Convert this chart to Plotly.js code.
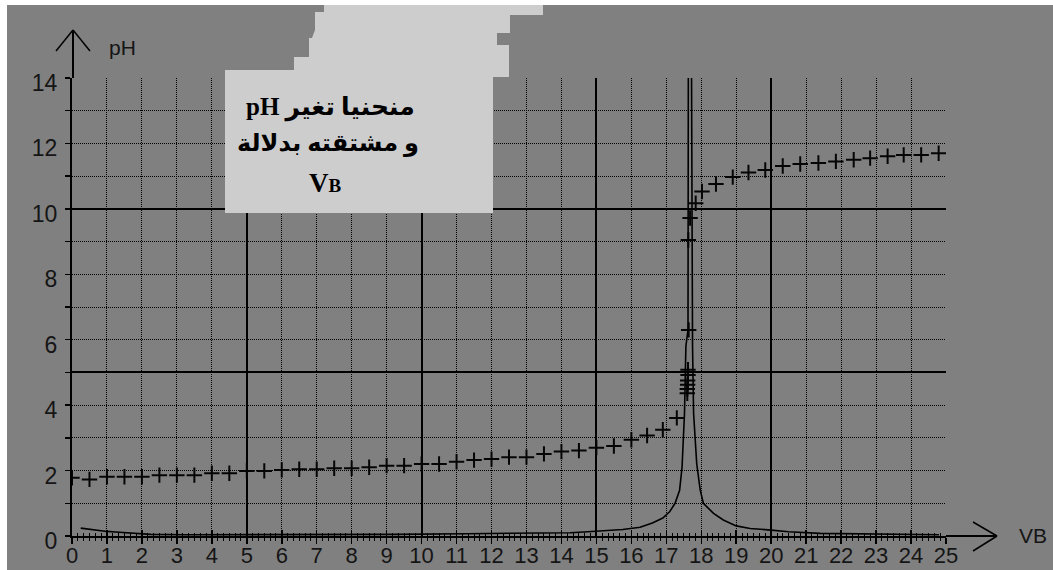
<!DOCTYPE html>
<html>
<head>
<meta charset="utf-8">
<script src="https://cdn.plot.ly/plotly-3.0.1.min.js"></script>
<style>html,body{margin:0;padding:0;background:#fff;}#chart{width:1053px;height:570px;}</style>
</head>
<body>
<div id="chart"></div>
<script>
// ---- data ----
const vbPH = [0, 0.5, 1, 1.5, 2, 2.5, 3, 3.5, 4, 4.5, 5, 5.5, 6, 6.5, 7, 7.5, 8, 8.5, 9, 9.5, 10, 10.5, 11, 11.5, 12, 12.5, 13, 13.5, 14, 14.5, 15, 15.5, 16, 16.45, 16.9, 17.3, 17.6, 17.6, 17.61, 17.61, 17.62, 17.62, 17.64, 17.63, 17.68, 17.84, 18.02, 18.42, 18.9, 19.35, 19.83, 20.33, 20.83, 21.35, 21.85, 22.36, 22.83, 23.33, 23.79, 24.29, 24.79];
const pH   = [1.78, 1.73, 1.81, 1.81, 1.81, 1.86, 1.86, 1.86, 1.92, 1.92, 1.99, 1.99, 2.02, 2.04, 2.04, 2.07, 2.07, 2.10, 2.15, 2.15, 2.20, 2.20, 2.27, 2.32, 2.35, 2.41, 2.41, 2.51, 2.58, 2.61, 2.70, 2.75, 2.94, 3.07, 3.25, 3.61, 4.36, 4.49, 4.62, 4.75, 4.92, 5.08, 6.30, 9.05, 9.72, 10.17, 10.53, 10.76, 10.97, 11.11, 11.19, 11.31, 11.37, 11.40, 11.45, 11.50, 11.55, 11.61, 11.65, 11.65, 11.70];

const vbDeriv = [0.25, 0.5, 0.75, 1.0, 1.25, 1.5, 1.75, 2.25, 3.25, 5.25, 7.25, 9.25, 11.25, 12.75, 14.25, 14.75, 15.25, 15.75, 16.25, 16.6, 16.9, 17.1, 17.25, 17.38, 17.45, 17.49, 17.52, 17.56, 17.62, 17.63, 17.67, 17.72, 17.73, 17.75, 17.78, 17.87, 17.97, 18.06, 18.35, 18.63, 19.0, 19.4, 20.0, 20.5, 21.4, 22.5, 23.7, 24.8];
const deriv   = [0.24, 0.20, 0.17, 0.14, 0.12, 0.10, 0.08, 0.05, 0.04, 0.04, 0.04, 0.05, 0.07, 0.08, 0.10, 0.13, 0.16, 0.20, 0.27, 0.40, 0.55, 0.75, 1.0, 1.4, 2.1, 3.0, 3.75, 5.8, 6.3, 14.5, 22, 14.5, 6.3, 5.8, 3.75, 2.2, 1.4, 1.0, 0.69, 0.49, 0.31, 0.23, 0.18, 0.13, 0.08, 0.06, 0.05, 0.04];

const xTickStep = 1, yTickStep = 2;
const titleLine1 = '\u202Bمنحنيا تغير pH\u202C';
const titleLine2 = 'و مشتقته بدلالة';
const titleLine3 = 'V<span style="font-size:19px">B</span>';

// ---- layout helpers (pixel -> paper) ----
const W = 1053, H = 570, ML = 72, MR = 107, MT = 78, MB = 34;
const PW = W - ML - MR, PH = H - MT - MB;
const px = x => (x - ML) / PW;
const py = y => (H - MB - y) / PH;
function path(pts){ return pts.map((p,i)=>(i?'L':'M')+px(p[0]).toFixed(5)+','+py(p[1]).toFixed(5)).join(' ')+' Z'; }

const boxPts = [[225,213],[225,70],[294,70],[294,57],[309,57],[309,38],[312,38],[315,30],[315,12],[324,12],[324,5],[543,5],[543,15],[510,15],[510,33],[497,33],[497,45],[509,45],[509,77],[493,77],[493,213]];

const tickFont = {family:'Liberation Sans Narrow, Liberation Sans, Arial, sans-serif', size:22, color:'#151515'};
const dotGrid = {gridcolor:'#000', gridwidth:1, griddash:'1px,1px'};

const traces = [
  {x: vbDeriv, y: deriv, type:'scatter', mode:'lines', line:{color:'#000', width:1.6}, hoverinfo:'skip'},
  {x: vbPH, y: pH, type:'scatter', mode:'markers', marker:{symbol:'cross-thin', size:11, line:{color:'#050505', width:2}}, hoverinfo:'skip'},
  {x: [], y: [], xaxis:'x2', yaxis:'y', type:'scatter'},
  {x: [], y: [], xaxis:'x3', yaxis:'y2', type:'scatter'}
];

const layout = {
  width: W, height: H,
  margin: {l:ML, r:MR, t:MT, b:MB, pad:0},
  paper_bgcolor:'#808080', plot_bgcolor:'#808080',
  showlegend:false,
  xaxis: Object.assign({range:[0,25], tick0:0, dtick:xTickStep, showgrid:true, zeroline:false,
    showline:true, linecolor:'#000', linewidth:2, ticks:'outside', ticklen:6, tickwidth:1.5, tickcolor:'#000',
    tickfont:tickFont, ticklabelstandoff:-7,
    minor:{tick0:0, dtick:1/6, ticks:'outside', ticklen:3, tickwidth:1, tickcolor:'#000', showgrid:false}}, dotGrid),
  xaxis2: {overlaying:'x', anchor:'y', side:'bottom', range:[0,25], tick0:0, dtick:xTickStep, showgrid:false, zeroline:false, showline:false,
    ticks:'inside', ticklen:6, tickwidth:1.5, tickcolor:'#000', showticklabels:false,
    minor:{tick0:0, dtick:1/6, ticks:'inside', ticklen:3, tickwidth:1, tickcolor:'#000', showgrid:false}},
  xaxis3: {overlaying:'x', anchor:'y', range:[0,25], tick0:0, dtick:5, showgrid:true, gridcolor:'#000', gridwidth:2, zeroline:false, showline:false, ticks:'', showticklabels:false},
  yaxis: Object.assign({range:[0,14], tick0:0, dtick:yTickStep, showgrid:true, zeroline:false,
    showline:true, linecolor:'#000', linewidth:2, ticks:'outside', ticklen:5, tickwidth:1.5, tickcolor:'#000',
    tickfont:Object.assign({}, tickFont, {size:23}), ticklabelstandoff:3, ticklabelshift:5,
    minor:Object.assign({tick0:0, dtick:1, ticks:'outside', ticklen:5, tickwidth:1.5, tickcolor:'#000', showgrid:true}, dotGrid)}, dotGrid),
  yaxis2: {overlaying:'y', anchor:'x', range:[0,14], tick0:0, dtick:5, showgrid:true, gridcolor:'#000', gridwidth:2, zeroline:false, showline:false, ticks:'', showticklabels:false},
  shapes: [
    {type:'rect', xref:'paper', yref:'paper', x0:px(0), x1:px(W), y0:py(0), y1:py(5), fillcolor:'#ffffff', line:{width:0}, layer:'above'},
    {type:'rect', xref:'paper', yref:'paper', x0:px(0), x1:px(7), y0:py(0), y1:py(H), fillcolor:'#ffffff', line:{width:0}, layer:'above'},
    {type:'path', xref:'paper', yref:'paper', path:path(boxPts), fillcolor:'#cdcdcd', line:{width:0}, layer:'above'},
    // axis extensions and arrowheads
    {type:'line', xref:'paper', yref:'paper', x0:px(73), x1:px(73), y0:py(78), y1:py(30), line:{color:'#000', width:2}},
    {type:'line', xref:'paper', yref:'paper', x0:px(56), x1:px(73), y0:py(51), y1:py(30), line:{color:'#000', width:1.5}},
    {type:'line', xref:'paper', yref:'paper', x0:px(90), x1:px(73), y0:py(51), y1:py(30), line:{color:'#000', width:1.5}},
    {type:'line', xref:'paper', yref:'paper', x0:px(946), x1:px(997), y0:py(536), y1:py(536), line:{color:'#000', width:2}},
    {type:'line', xref:'paper', yref:'paper', x0:px(973), x1:px(997), y0:py(522), y1:py(536), line:{color:'#000', width:1.5}},
    {type:'line', xref:'paper', yref:'paper', x0:px(973), x1:px(997), y0:py(551), y1:py(536), line:{color:'#000', width:1.5}}
  ],
  annotations: [
    {xref:'paper', yref:'paper', x:px(122), y:py(47), text:'pH', showarrow:false, xanchor:'center', yanchor:'middle', font:{family:'Liberation Sans, Arial, sans-serif', size:21, color:'#151515'}},
    {xref:'paper', yref:'paper', x:px(1033), y:py(535), text:'VB', showarrow:false, xanchor:'center', yanchor:'middle', font:{family:'Liberation Sans, Arial, sans-serif', size:21, color:'#151515'}},
    {xref:'paper', yref:'paper', x:px(330), y:py(107), text:titleLine1, showarrow:false, xanchor:'center', yanchor:'middle', font:{family:'Liberation Serif, DejaVu Sans, serif', size:25, color:'#000', weight:'bold'}},
    {xref:'paper', yref:'paper', x:px(328), y:py(143), text:titleLine2, showarrow:false, xanchor:'center', yanchor:'middle', font:{family:'Liberation Serif, DejaVu Sans, serif', size:24, color:'#000', weight:'bold'}},
    {xref:'paper', yref:'paper', x:px(325), y:py(183), text:titleLine3, showarrow:false, xanchor:'center', yanchor:'middle', font:{family:'Liberation Serif, serif', size:27, color:'#000', weight:'bold'}}
  ]
};

Plotly.newPlot('chart', traces, layout, {staticPlot:true, displayModeBar:false});
</script>
</body>
</html>
